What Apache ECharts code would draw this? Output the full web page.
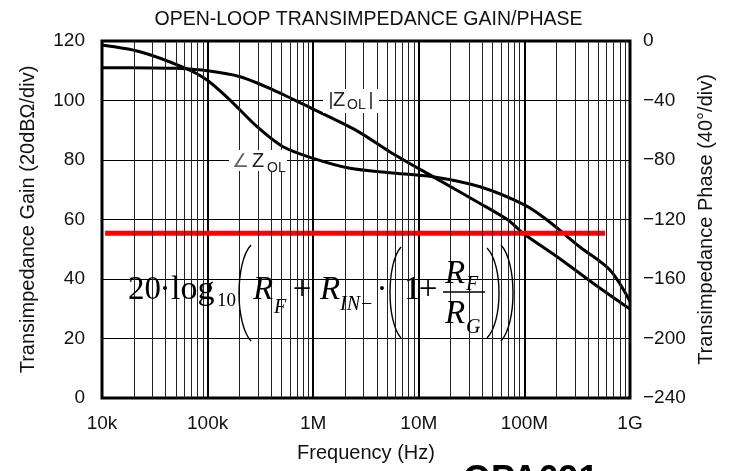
<!DOCTYPE html>
<html><head><meta charset="utf-8">
<script src="https://cdn.jsdelivr.net/npm/echarts@6/dist/echarts.min.js"></script>
<style>html,body{margin:0;padding:0;background:#fff}#c{width:737px;height:471px}</style>
</head><body><div id="c"></div>
<script>
// ---- data ----
const decadeValues = [1e4, 1e5, 1e6, 1e7, 1e8, 1e9];
const decadeLabels = ['10k', '100k', '1M', '10M', '100M', '1G'];
const minorMultipliers = [2, 3, 4, 5, 6, 7, 8, 9];

const gainFreq = [1e4, 3e4, 5e4, 1e5, 2.03e5, 4.16e5, 1e6, 2.6e6, 5.3e6, 1.36e7, 3.8e7, 7e7, 9.7e7, 2.04e8, 4.47e8, 1e9];
const gainDb   = [111.0, 110.95, 110.8, 110.0, 108.0, 103.6, 97.1, 89.8, 82.8, 74.4, 65.4, 59.8, 55.4, 47.5, 38.6, 29.9];

const phaseFreq = [1e4, 2.29e4, 5.97e4, 9.86e4, 1.63e5, 2.94e5, 5.18e5, 1e6, 2.23e6, 5.3e6, 1.36e7, 3.8e7, 1.01e8, 1.64e8, 3.36e8, 6.46e8, 1e9];
const phaseDeg  = [-2.7, -7.2, -17.9, -26.2, -39.7, -57.6, -71.1, -78.9, -85.6, -88.5, -91.2, -98, -110.3, -120.3, -138.5, -154, -175];

const refFreq = [1.07e4, 5.8e8];
const refDb   = [55.4, 55.4];

const gainTicks = [0, 20, 40, 60, 80, 100, 120];
const phaseTicks = [-240, -200, -160, -120, -80, -40, 0];

// ---- chart ----
const zip = (a, b) => a.map((v, i) => [v, b[i]]);
const minorLines = [];
decadeValues.slice(0, -1).forEach(d => minorMultipliers.forEach(m => minorLines.push({ xAxis: d * m })));

const SANS = '"Liberation Sans", Arial, sans-serif';
const SERIF = '"Liberation Serif", "Times New Roman", serif';

function txt(text, x, y, size, opts) {
  opts = opts || {};
  return {
    type: 'text', x: x, y: y, z: 100, silent: true,
    style: {
      text: text, fill: opts.fill || '#000',
      fontSize: size, fontFamily: opts.family || SERIF,
      fontStyle: opts.italic ? 'italic' : 'normal',
      fontWeight: opts.bold ? 'bold' : 'normal',
      align: opts.align || 'left', textAlign: opts.align || 'left',
      verticalAlign: 'middle', textVerticalAlign: 'middle'
    }
  };
}
function paren(xEnd, bulge, y1, y2) {
  const c = xEnd + (bulge - xEnd) / 0.75;
  const h = y2 - y1;
  return {
    type: 'bezierCurve', z: 100, silent: true,
    shape: { x1: xEnd, y1: y1, x2: xEnd, y2: y2, cpx1: c, cpy1: y1 + 0.18 * h, cpx2: c, cpy2: y2 - 0.18 * h },
    style: { stroke: '#000', lineWidth: 1.4, fill: null }
  };
}

const graphics = [
  // formula
  txt('20', 128, 290, 33),
  txt('·', 165, 290, 33, { align: 'center' }),
  txt('log', 171, 290, 34),
  txt('10', 217, 301.5, 19),
  paren(251, 239, 245, 341),
  txt('R', 253, 290, 33, { italic: true }),
  txt('F', 274, 308, 20, { italic: true }),
  txt('+', 302, 290, 33, { align: 'center' }),
  txt('R', 320, 290, 33, { italic: true }),
  txt('IN−', 340, 305, 20, { italic: true }),
  txt('·', 382, 290, 33, { align: 'center' }),
  paren(401, 390, 247, 338),
  txt('1', 404, 290, 33),
  txt('+', 428, 290, 33, { align: 'center' }),
  txt('R', 445, 274, 33, { italic: true }),
  txt('F', 466, 285, 20, { italic: true }),
  { type: 'line', z: 100, silent: true, shape: { x1: 443, y1: 292, x2: 485, y2: 292 }, style: { stroke: '#000', lineWidth: 1.4 } },
  txt('R', 445, 314, 33, { italic: true }),
  txt('G', 466, 328, 20, { italic: true }),
  paren(487, 499, 248, 338),
  paren(501, 513, 245, 341),
  // |Z_OL| label
  { type: 'rect', z: 99, silent: true, shape: { x: 323, y: 89, width: 56, height: 24 }, style: { fill: '#fff' } },
  txt('|', 331, 100, 19, { family: SANS, align: 'center', fill: '#222' }),
  txt('Z', 333, 100, 20, { family: SANS, fill: '#222' }),
  txt('OL', 347, 105, 14, { family: SANS, fill: '#222' }),
  txt('|', 371, 100, 19, { family: SANS, align: 'center', fill: '#222' }),
  // ∠Z_OL label
  { type: 'rect', z: 99, silent: true, shape: { x: 229, y: 150, width: 58, height: 21 }, style: { fill: '#fff' } },
  txt('∠', 232, 162, 19, { family: '"DejaVu Sans", sans-serif', fill: '#666' }),
  txt('Z', 252, 161, 20, { family: SANS, fill: '#222' }),
  txt('OL', 267, 168, 14, { family: SANS, fill: '#222' }),
  // part number, cut at the bottom edge
  txt('OPA691', 463, 481, 36, { family: SANS, bold: true })
];

const chart = echarts.init(document.getElementById('c'), null, { renderer: 'canvas' });
chart.setOption({
  animation: false,
  backgroundColor: '#fff',
  title: {
    text: 'OPEN-LOOP TRANSIMPEDANCE GAIN/PHASE', left: 'center', top: 5,
    textStyle: { fontFamily: SANS, fontSize: 19.5, fontWeight: 'normal', color: '#111' }
  },
  grid: { left: 102, right: 107, top: 41, bottom: 73, show: true, borderColor: '#000', borderWidth: 3, backgroundColor: 'transparent' },
  xAxis: {
    type: 'log', logBase: 10, min: decadeValues[0], max: decadeValues[decadeValues.length - 1],
    name: 'Frequency (Hz)', nameLocation: 'middle', nameGap: 45,
    nameTextStyle: { fontFamily: SANS, fontSize: 20, color: '#111' },
    axisLine: { show: false }, axisTick: { show: false },
    axisLabel: {
      fontFamily: SANS, fontSize: 19, color: '#111', margin: 16,
      formatter: v => decadeLabels[decadeValues.indexOf(Math.pow(10, Math.round(Math.log10(v))))] || ''
    },
    splitLine: { show: true, lineStyle: { color: '#000', width: 2 } }
  },
  yAxis: [{
    type: 'value', min: gainTicks[0], max: gainTicks[gainTicks.length - 1], interval: 20,
    name: 'Transimpedance Gain (20dBΩ/div)', nameLocation: 'middle', nameGap: 64,
    nameTextStyle: { fontFamily: SANS, fontSize: 20, color: '#111' },
    axisLine: { show: false }, axisTick: { show: false },
    axisLabel: { fontFamily: SANS, fontSize: 19, color: '#111', margin: 17 },
    splitLine: { show: true, lineStyle: { color: '#000', width: 1 } }
  }, {
    type: 'value', min: phaseTicks[0], max: phaseTicks[phaseTicks.length - 1], interval: 40,
    name: 'Transimpedance Phase (40°/div)', nameLocation: 'middle', nameGap: 63,
    nameTextStyle: { fontFamily: SANS, fontSize: 20, color: '#111' },
    axisLine: { show: false }, axisTick: { show: false },
    axisLabel: { fontFamily: SANS, fontSize: 19, color: '#111', margin: 13,
      formatter: v => v < 0 ? '−' + Math.abs(v) : String(v) },
    splitLine: { show: false }
  }],
  series: [
    {
      type: 'line', data: [], z: 1, silent: true,
      markLine: {
        silent: true, symbol: ['none', 'none'], label: { show: false },
        lineStyle: { type: 'solid', color: '#222', width: 1 },
        data: minorLines, animation: false
      }
    },
    { name: '|Z_OL|', type: 'line', yAxisIndex: 0, data: zip(gainFreq, gainDb), smooth: 0.3, showSymbol: false, z: 3,
      lineStyle: { color: '#000', width: 3 } },
    { name: '∠Z_OL', type: 'line', yAxisIndex: 1, data: zip(phaseFreq, phaseDeg), smooth: 0.3, showSymbol: false, z: 3,
      lineStyle: { color: '#000', width: 3 } },
    { name: 'ref', type: 'line', yAxisIndex: 0, data: zip(refFreq, refDb), showSymbol: false, z: 4,
      lineStyle: { color: '#ff0000', width: 5 } }
  ],
  graphic: { elements: graphics }
});
</script>
</body></html>
